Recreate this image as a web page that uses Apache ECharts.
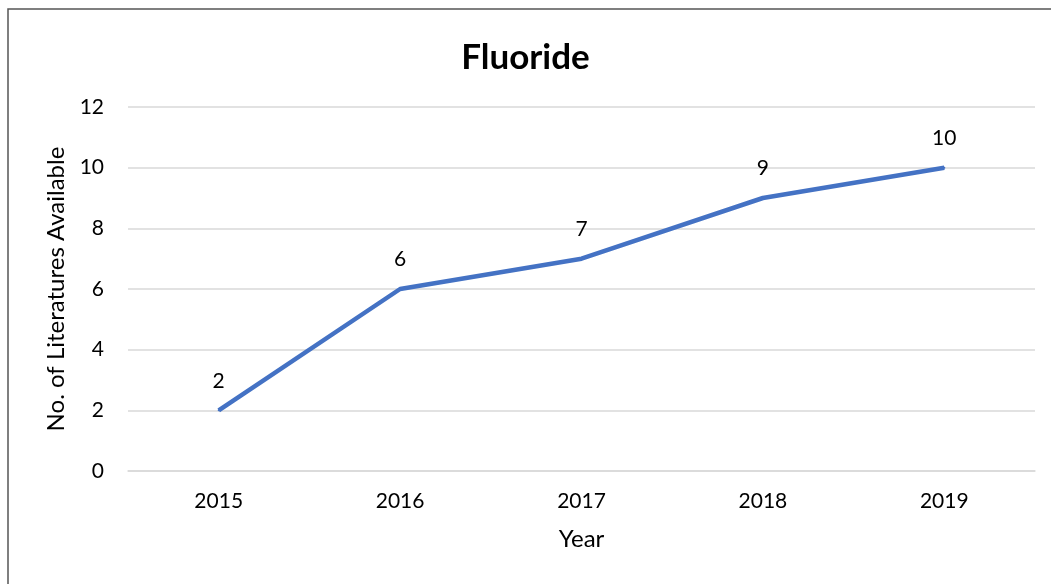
<!DOCTYPE html>
<html>
<head>
<meta charset="utf-8">
<script src="https://cdn.jsdelivr.net/npm/echarts@6/dist/echarts.min.js"></script>
<style>
  html, body { margin: 0; padding: 0; background: #fff; }
  #chart { width: 1051px; height: 584px; }
</style>
</head>
<body>
<div id="chart"></div>
<script>
// data
var years = ['2015', '2016', '2017', '2018', '2019'];
var counts = [2, 6, 7, 9, 10];
var yTicks = [0, 2, 4, 6, 8, 10, 12];

var font = 'Lato, "Open Sans", sans-serif';
var chart = echarts.init(document.getElementById('chart'));

chart.setOption({
    animation: false,
    backgroundColor: '#fff',
    textStyle: { fontFamily: font },
    title: {
        text: 'Fluoride',
        left: 'center',
        top: 35,
        textStyle: { fontSize: 35, fontWeight: 'bold', color: '#000', fontFamily: font }
    },
    graphic: [{
        type: 'rect',
        shape: { x: 8, y: 9, width: 1100, height: 700 },
        style: { fill: 'none', stroke: '#555', lineWidth: 1.5 },
        silent: true
    }],
    grid: { left: 128, right: 16, top: 107, bottom: 113 },
    xAxis: {
        type: 'category',
        data: years,
        boundaryGap: true,
        name: 'Year',
        nameLocation: 'middle',
        nameGap: 56,
        nameTextStyle: { fontSize: 24, color: '#000' },
        axisLine: { show: true, lineStyle: { color: '#d9d9d9', width: 1.5 } },
        axisTick: { show: false },
        axisLabel: { fontSize: 21, color: '#000', margin: 20 }
    },
    yAxis: {
        type: 'value',
        min: yTicks[0],
        max: yTicks[yTicks.length - 1],
        interval: 2,
        name: 'No. of Literatures Available',
        nameLocation: 'middle',
        nameGap: 56,
        nameTextStyle: { fontSize: 24, color: '#000' },
        axisLine: { show: false },
        axisTick: { show: false },
        axisLabel: { fontSize: 21, color: '#000', margin: 24 },
        splitLine: { lineStyle: { color: '#d9d9d9', width: 1.5 } }
    },
    series: [{
        type: 'line',
        data: counts,
        symbol: 'circle',
        symbolSize: 2,
        showAllSymbol: true,
        itemStyle: { color: '#4472c4' },
        lineStyle: { color: '#4472c4', width: 4.5 },
        label: {
            show: true,
            position: 'top',
            distance: 18,
            fontSize: 21,
            color: '#000'
        }
    }]
});
</script>
</body>
</html>
